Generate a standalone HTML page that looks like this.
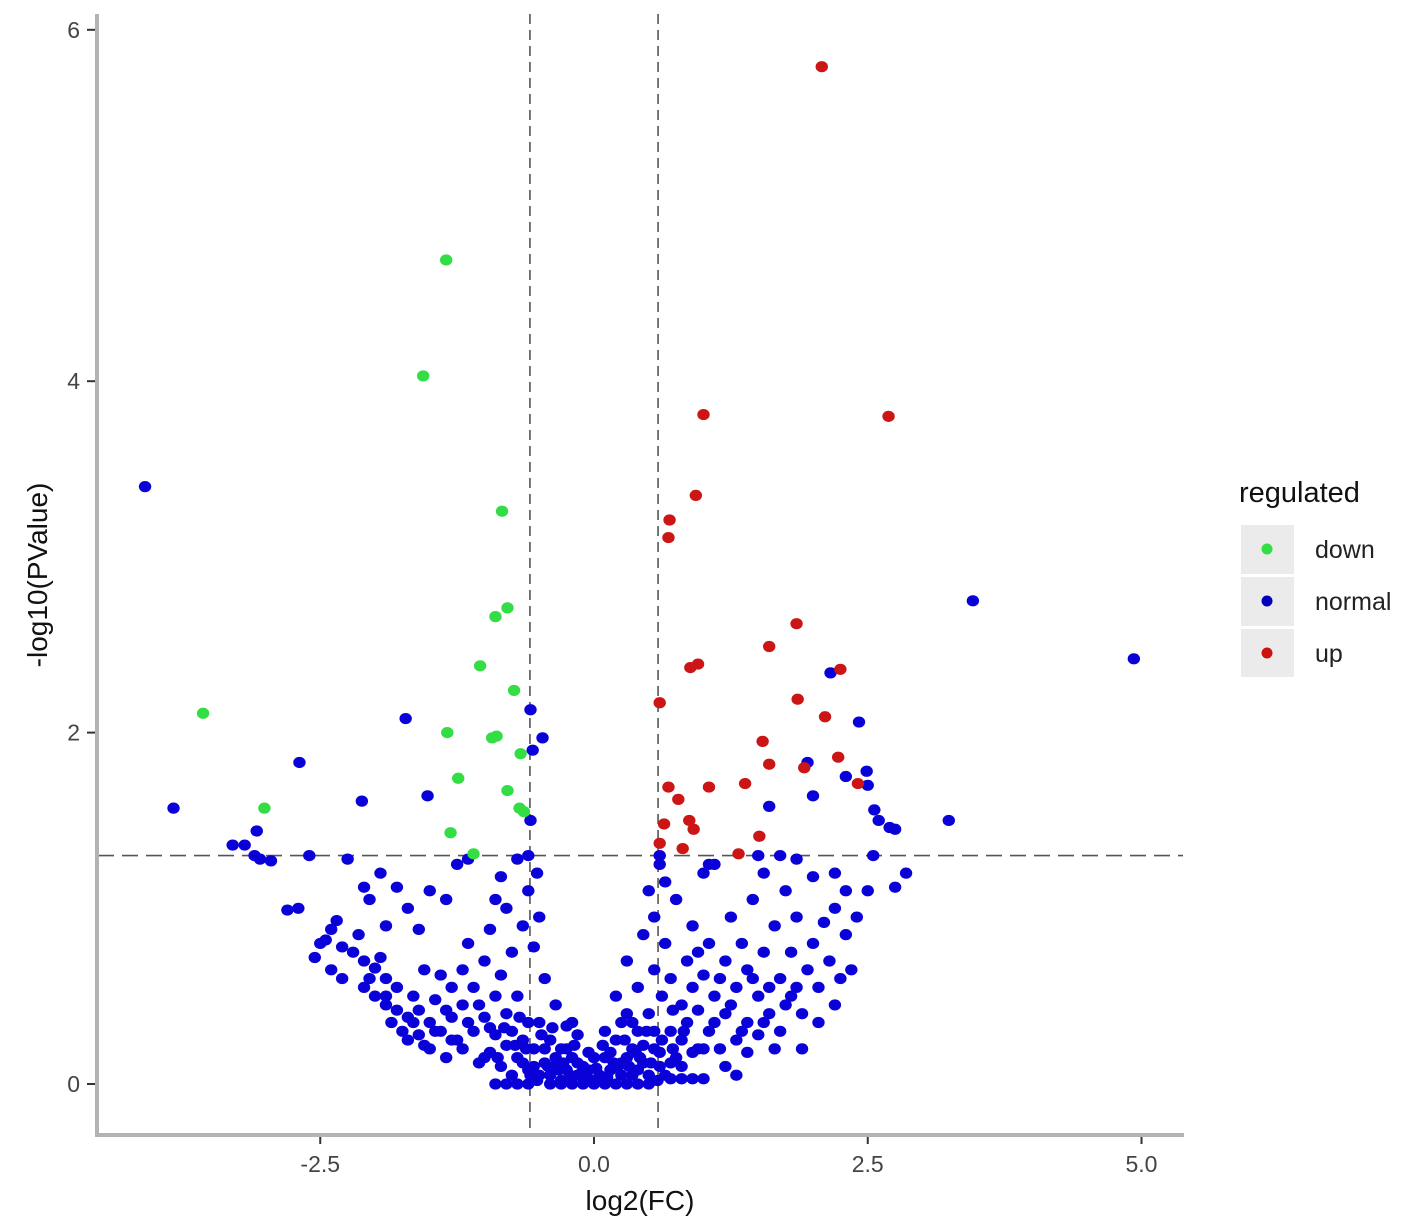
<!DOCTYPE html>
<html><head><meta charset="utf-8"><style>
body{margin:0;background:#fff;}
svg{display:block;font-family:"Liberation Sans",sans-serif;}
</style></head><body>
<svg id="chart" width="1418" height="1232" viewBox="0 0 1418 1232">
<g id="grid"></g>
<g id="points"></g>
<g id="axes"></g>
<text x="640" y="1210" font-size="28" text-anchor="middle" fill="#111">log2(FC)</text>
<text transform="translate(47,575) rotate(-90)" font-size="28" text-anchor="middle" fill="#111">-log10(PValue)</text>
<g>
<text x="1239" y="502" font-size="29" fill="#111">regulated</text>
<g><rect x="1241" y="525" width="53" height="49" fill="#ebebeb"/><circle cx="1267" cy="549" r="5.5" fill="#33dd44"/><text x="1315" y="558" font-size="25" fill="#222">down</text></g>
<g><rect x="1241" y="577" width="53" height="49" fill="#ebebeb"/><circle cx="1267" cy="601" r="5.5" fill="#0000bb"/><text x="1315" y="610" font-size="25" fill="#222">normal</text></g>
<g><rect x="1241" y="629" width="53" height="48" fill="#ebebeb"/><circle cx="1267" cy="653" r="5.5" fill="#cc1111"/><text x="1315" y="662" font-size="25" fill="#222">up</text></g>
</g>
</svg>
<script>
const xTicks=[-2.5,0.0,2.5,5.0];
const xTickLabels=["-2.5","0.0","2.5","5.0"];
const yTicks=[0,2,4,6];
const yTickLabels=["0","2","4","6"];
const fcThreshold=0.585;
const pThreshold=1.3;
const downPoints=[[-1.35,4.69],[-1.56,4.03],[-0.84,3.26],[-0.79,2.71],[-0.9,2.66],[-1.04,2.38],[-0.73,2.24],[-3.57,2.11],[-1.34,2.0],[-0.89,1.98],[-0.93,1.97],[-0.67,1.88],[-1.24,1.74],[-0.79,1.67],[-3.01,1.57],[-0.68,1.57],[-0.64,1.55],[-1.31,1.43],[-1.1,1.31]];
const upPoints=[[2.08,5.79],[1.0,3.81],[2.69,3.8],[0.93,3.35],[0.69,3.21],[0.68,3.11],[1.85,2.62],[1.6,2.49],[0.95,2.39],[0.88,2.37],[2.25,2.36],[0.6,2.17],[1.86,2.19],[2.11,2.09],[1.54,1.95],[2.23,1.86],[1.6,1.82],[1.92,1.8],[1.38,1.71],[0.68,1.69],[1.05,1.69],[2.41,1.71],[0.77,1.62],[0.87,1.5],[0.64,1.48],[0.91,1.45],[0.6,1.37],[1.51,1.41],[0.81,1.34],[1.32,1.31]];
const normalPoints=[[-4.1,3.4],[3.46,2.75],[4.93,2.42],[-3.84,1.57],[-2.69,1.83],[-1.72,2.08],[-0.58,2.13],[-0.47,1.97],[-0.56,1.9],[2.16,2.34],[2.42,2.06],[2.49,1.78],[1.95,1.83],[2.0,1.64],[1.6,1.58],[3.24,1.5],[2.56,1.56],[2.7,1.46],[-2.12,1.61],[-1.52,1.64],[-3.19,1.36],[-3.08,1.44],
[-3.3,1.36],[-3.1,1.3],[-3.05,1.28],[-2.95,1.27],[-2.8,0.99],[-2.7,1.0],[-2.55,0.72],[-2.5,0.8],[-2.45,0.82],[-2.4,0.88],[-2.35,0.93],[-2.4,0.65],[-2.3,0.6],[-2.3,0.78],[-2.2,0.75],[-2.15,0.85],[-2.1,0.7],[-2.1,0.55],[-2.05,0.6],[-2.0,0.66],[-2.0,0.5],[-1.95,0.72],[-1.9,0.45],[-1.9,0.6],[-1.85,0.35],[-1.8,0.42],[-1.8,0.55],[-1.75,0.3],[-1.7,0.38],[-1.65,0.5],[-1.6,0.28],[-1.6,0.42],[-1.55,0.65],[-1.5,0.2],[-1.5,0.35],[-1.45,0.48],[-1.4,0.3],[-1.4,0.62],[-1.35,0.15],[-1.3,0.38],[-1.3,0.55],[-1.25,0.25],[-1.2,0.2],[-1.2,0.45],[-1.15,0.8],[-1.1,0.3],[-1.1,0.55],[-1.05,0.12],[-1.0,0.38],[-1.0,0.7],[-0.95,0.18],[-0.95,0.88],[-0.9,0.28],[-0.9,0.5],[-0.85,0.1],[-0.85,0.62],[-0.8,0.22],[-0.8,0.4],[-0.8,1.0],[-0.75,0.05],[-0.75,0.3],[-0.75,0.75],[-0.7,0.15],[-0.7,0.5],[-0.65,0.25],[-0.65,0.9],[-0.6,0.08],[-0.6,1.1],[-0.6,1.3],[-0.58,1.5],[-0.55,0.2],[-0.55,0.78],[-0.52,1.2],[-0.5,0.05],[-0.5,0.35],[-0.5,0.95],[-0.45,0.12],[-0.45,0.6],[-0.4,0.25],[-0.4,0.05],[-0.35,0.45],[-0.35,0.1],[-0.3,0.2],[-0.3,0.02],[-0.25,0.33],[-0.25,0.08],[-0.2,0.15],[-0.2,0.0],[-0.15,0.05],[-0.15,0.28],[-0.1,0.1],[-0.1,0.0],[-0.05,0.03],[-0.05,0.18],
[-2.6,1.3],[-2.1,1.12],[-2.05,1.05],[-1.95,1.2],[-1.8,1.12],[-1.7,1.0],[-1.5,1.1],[-1.35,1.05],[-1.25,1.25],[-1.15,1.28],[-0.9,1.05],[-0.85,1.18],[-0.7,1.28],[-1.6,0.88],[-1.9,0.9],[-2.25,1.28],
[-0.9,0],[-0.8,0],[-0.7,0],[-0.6,0],[-0.4,0],[-0.3,0],[0.0,0],[0.1,0],[0.2,0],[0.3,0],[0.4,0],[0.5,0],[0.7,0.03],[0.8,0.03],[0.9,0.03],[1.0,0.03],
[-0.55,0.1],[-0.45,0.2],[-0.35,0.15],[-0.25,0.2],[-0.15,0.12],[-0.05,0.08],[0.0,0.15],[0.05,0.02],[0.15,0.18],[0.25,0.05],[0.3,0.15],[0.4,0.08],[0.45,0.22],[0.5,0.05],[0.55,0.3],[0.6,0.18],[-0.65,0.12],[-0.6,0.35],[-1.0,0.15],[-0.95,0.32],[0.65,0.05],[0.7,0.12],[0.8,0.1],[0.9,0.18],
[0.05,0.05],[0.1,0.15],[0.1,0.3],[0.15,0.08],[0.2,0.25],[0.2,0.5],[0.25,0.12],[0.3,0.4],[0.3,0.7],[0.35,0.2],[0.35,0.05],[0.4,0.55],[0.4,0.3],[0.45,0.85],[0.45,0.12],[0.5,0.4],[0.5,1.1],[0.55,0.2],[0.55,0.65],[0.55,0.95],[0.6,1.25],[0.6,0.1],[0.62,0.5],[0.65,0.8],[0.65,1.15],[0.7,0.3],[0.7,0.6],[0.75,0.15],[0.75,1.05],[0.8,0.45],[0.8,0.25],[0.85,0.7],[0.85,0.35],[0.9,0.55],[0.9,0.9],[0.95,0.2],[0.95,0.42],[1.0,0.62],[1.0,1.2],[1.05,0.3],[1.05,0.8],[1.1,0.5],[1.1,1.25],[1.15,0.2],[1.2,0.7],[1.2,0.4],[1.25,0.95],[1.3,0.55],[1.3,0.25],[1.35,0.8],[1.4,0.35],[1.4,0.65],[1.45,1.05],[1.5,0.5],[1.5,0.28],[1.55,0.75],[1.55,1.2],[1.6,0.4],[1.65,0.9],[1.7,0.6],[1.7,0.3],[1.75,1.1],[1.8,0.5],[1.8,0.75],[1.85,0.95],[1.9,0.4],[1.95,0.65],[2.0,0.8],[2.0,1.18],[2.05,0.55],[2.1,0.92],[2.15,0.7],[2.2,1.0],[2.25,0.6],[2.3,0.85],[2.3,1.1],[2.35,0.65],[2.4,0.95],[2.5,1.1],[2.55,1.3],[2.75,1.12],[2.85,1.2],[1.7,1.3],[1.85,1.28],[1.05,1.25],[0.6,1.3],[2.2,1.2],[2.6,1.5],[2.75,1.45],[2.5,1.7],[2.3,1.75],[1.5,1.3],[1.3,0.05],[1.2,0.1],[1.9,0.2],[2.2,0.45],
[1.0,0.2],[1.1,0.35],[1.25,0.45],[1.35,0.3],[1.45,0.6],[1.6,0.55],[1.75,0.45],[1.15,0.6],[0.95,0.75],[-1.15,0.35],[-1.3,0.25],[-1.45,0.3],[-1.65,0.35],[-1.9,0.5],[-1.2,0.65],[-1.05,0.45],
[-0.52,0.02],[-0.42,0.1],[-0.32,0.08],[-0.22,0.05],[-0.12,0.06],[0.02,0.09],[0.12,0.04],[0.22,0.1],[0.32,0.1],[0.42,0.15],[0.52,0.12],[-0.48,0.28],[-0.38,0.32],[-0.28,0.12],[-0.18,0.22],[0.08,0.22],[0.18,0.12],[0.28,0.25],[0.38,0.18],[0.48,0.3],[-0.62,0.2],[-0.72,0.22],[-0.82,0.32],[-0.68,0.38],[0.62,0.25],[0.72,0.2],[0.82,0.3],[0.72,0.42],[-0.88,0.15],[-0.58,0.05],[0.58,0.02],[0.35,0.35],[-0.2,0.35],[0.25,0.35],[-1.35,0.42],[-1.55,0.22],[-1.7,0.25],[1.4,0.18],[1.55,0.35],[1.65,0.2],[1.85,0.55],[2.05,0.35]];
const X0=594,XS=109.5,Y0=1084,YS=175.7;
function sx(v){return X0+v*XS;}
function sy(v){return Y0-v*YS;}
const NS="http://www.w3.org/2000/svg";
function mk(tag,attrs,parent){const e=document.createElementNS(NS,tag);for(const k in attrs)e.setAttribute(k,attrs[k]);parent.appendChild(e);return e;}
const grid=document.getElementById('grid');
const axes=document.getElementById('axes');
const pts=document.getElementById('points');
let l;
l=mk('line',{x1:sx(-fcThreshold),x2:sx(-fcThreshold),y1:14,y2:1133,stroke:'#555','stroke-width':1.6,'stroke-dasharray':'10,6'},grid);


l=mk('line',{x1:sx(fcThreshold),x2:sx(fcThreshold),y1:14,y2:1133,stroke:'#555','stroke-width':1.6,'stroke-dasharray':'10,6'},grid);


l=mk('line',{x1:98,x2:1183,y1:sy(pThreshold),y2:sy(pThreshold),stroke:'#555','stroke-width':1.6,'stroke-dasharray':'16,8'},grid);


function drawSet(arr,color,name){arr.forEach(p=>{const c=mk('ellipse',{cx:sx(p[0]),cy:sy(p[1]),rx:6.2,ry:5.6,fill:color},pts);

});}
drawSet(normalPoints,'#0a00d8','point-normal');
drawSet(downPoints,'#33dd44','point-down');
drawSet(upPoints,'#cc1515','point-up');
l=mk('line',{x1:97,x2:97,y1:14,y2:1137,stroke:'#b3b3b3','stroke-width':4},axes);


l=mk('line',{x1:95,x2:1184,y1:1135,y2:1135,stroke:'#b3b3b3','stroke-width':4},axes);


xTicks.forEach((v,i)=>{mk('line',{x1:sx(v),x2:sx(v),y1:1137,y2:1144,stroke:'#333','stroke-width':2},axes);
const t=mk('text',{x:sx(v),y:1172,'font-size':23,'text-anchor':'middle',fill:'#444'},axes);t.textContent=xTickLabels[i];

});
yTicks.forEach((v,i)=>{mk('line',{x1:87,x2:95,y1:sy(v),y2:sy(v),stroke:'#333','stroke-width':2},axes);
const t=mk('text',{x:80,y:sy(v)+8,'font-size':23,'text-anchor':'end',fill:'#444'},axes);t.textContent=yTickLabels[i];

});
</script>
</body></html>
